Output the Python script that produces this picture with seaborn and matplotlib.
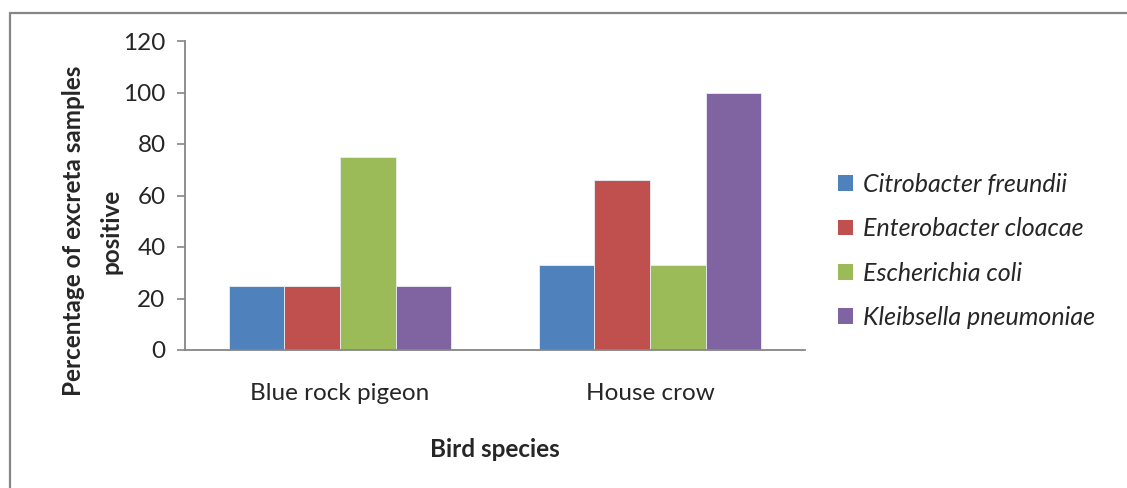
import matplotlib
matplotlib.use("Agg")
import matplotlib.pyplot as plt
from matplotlib.lines import Line2D
from matplotlib.patches import Patch
import seaborn as sns
import pandas as pd

# Data
birds = ["Blue rock pigeon", "House crow"]
organisms = ["Citrobacter freundii", "Enterobacter cloacae",
             "Escherichia coli", "Kleibsella pneumoniae"]
citrobacter = [25, 33]
enterobacter = [25, 66]
escherichia = [75, 33]
kleibsella = [25, 100]
y_ticks = [0, 20, 40, 60, 80, 100, 120]

colors = ["#4F81BD", "#C0504D", "#9BBB59", "#8064A2"]
grey = "#868686"

rows = []
for org, vals in zip(organisms, [citrobacter, enterobacter, escherichia, kleibsella]):
    for b, v in zip(birds, vals):
        rows.append({"Bird species": b, "Organism": org, "Percent": v})
df = pd.DataFrame(rows)

sns.set_theme(style="white")
plt.rcParams["font.family"] = ["Lato", "DejaVu Sans"]

fig = plt.figure(figsize=(11.27, 4.88), dpi=100)
ax = fig.add_axes([185 / 1127, 1 - 350 / 488, 620 / 1127, 309 / 488])

sns.barplot(data=df, x="Bird species", y="Percent", hue="Organism",
            hue_order=organisms, palette=colors, saturation=1,
            width=0.717, edgecolor="#e8eef5", linewidth=0.6, ax=ax)

ax.set_ylim(0, 120)
ax.set_xlim(-0.5, 1.5)
ax.set_yticks(y_ticks)
ax.set_yticklabels([str(t) for t in y_ticks], fontsize=17.5)
ax.set_xticks(range(len(birds)))
ax.set_xticklabels(birds, fontsize=17.5)
ax.set_xticks([-0.5, 0.5, 1.5], minor=True)
ax.tick_params(axis="x", which="major", length=0, pad=24)
ax.tick_params(axis="x", which="minor", length=6, width=1.2, color=grey, direction="out")
ax.tick_params(axis="y", length=6, width=1.2, color=grey, direction="out", pad=8, left=True)

for side in ["top", "right"]:
    ax.spines[side].set_visible(False)
for side in ["left", "bottom"]:
    ax.spines[side].set_color(grey)
    ax.spines[side].set_linewidth(1.3)

ax.set_xlabel("Bird species", fontsize=17.5, fontweight="bold", labelpad=24)
ax.set_ylabel("Percentage of excreta samples\npositive", fontsize=17.5,
              fontweight="bold", linespacing=1.75, ha="center", va="center")
ax.yaxis.set_label_coords(-0.15, 0.385)

if ax.get_legend() is not None:
    ax.get_legend().remove()
handles = [Patch(facecolor=c, edgecolor="none") for c in colors]
fig.legend(handles, organisms, loc="upper left",
           bbox_to_anchor=(828 / 1127, 1 - 163 / 488),
           frameon=False, prop={"size": 18, "style": "italic"},
           handlelength=0.6, handleheight=0.6, handletextpad=0.4,
           labelspacing=0.85, borderaxespad=0)

# Chart-area frame (top and left edges)
x0 = 9.5 / 1127
y0 = 1 - 12.5 / 488
fig.add_artist(Line2D([x0, 1.0], [y0, y0], transform=fig.transFigure,
                      color=grey, linewidth=1.6))
fig.add_artist(Line2D([x0, x0], [0.0, y0], transform=fig.transFigure,
                      color=grey, linewidth=1.6))

fig.savefig("out.png", dpi=100, facecolor="white")
